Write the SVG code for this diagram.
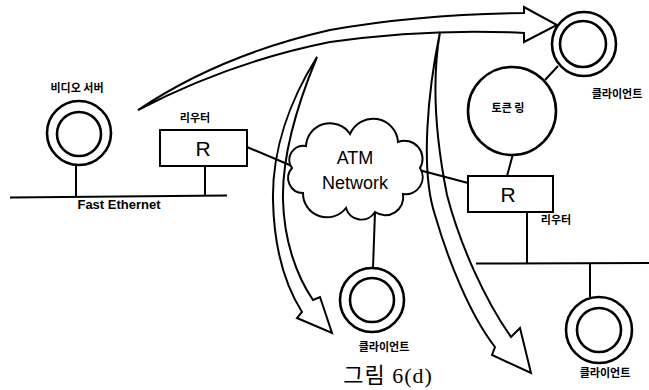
<svg xmlns="http://www.w3.org/2000/svg" width="649" height="390" viewBox="0 0 649 390">
<style>
.ln{stroke:#000;stroke-width:2;fill:none}
.ring{stroke:#000;stroke-width:2.6;fill:#fff}
.box{stroke:#000;stroke-width:2;fill:#fff}
.arr{stroke:#000;stroke-width:2;fill:none;stroke-linejoin:miter}
.kl{font-family:"Noto Sans CJK KR",sans-serif;font-weight:bold;font-size:11px;fill:#000}
.en{font-family:"Liberation Sans",Arial,sans-serif;fill:#000}
</style>
<rect width="649" height="390" fill="#fff"/>
<g id="connectors">
<line class="ln" x1="10" y1="197.5" x2="227" y2="195.5"/>
<line class="ln" x1="76" y1="166" x2="76" y2="196.5"/>
<line class="ln" x1="205" y1="166" x2="205" y2="195.5"/>
<line class="ln" x1="247" y1="147" x2="292" y2="166"/>
<line class="ln" x1="419" y1="170" x2="468" y2="183"/>
<line class="ln" x1="375" y1="212" x2="373" y2="268"/>
<line class="ln" x1="513" y1="154" x2="507" y2="176"/>
<line class="ln" x1="545" y1="80" x2="558" y2="66"/>
<line class="ln" x1="527" y1="212" x2="527" y2="263"/>
<line class="ln" x1="476" y1="263.5" x2="649" y2="263"/>
<line class="ln" x1="590" y1="263" x2="590" y2="297"/>
</g>
<g id="video-server">
<circle class="ring" cx="79" cy="133" r="32"/>
<circle class="ring" cx="79" cy="134" r="22"/>
<text class="kl" x="77" y="92" text-anchor="middle" font-size="12">비디오 서버</text>
</g>
<g id="fast-ethernet">
<text class="en" x="119" y="209" text-anchor="middle" font-size="13" font-weight="bold">Fast Ethernet</text>
</g>
<g id="router1">
<rect class="box" x="160" y="130" width="87" height="36"/>
<text class="en" x="203" y="156" text-anchor="middle" font-size="21">R</text>
<text class="kl" x="195" y="122" text-anchor="middle">리우터</text>
</g>
<g id="atm-network">
<path class="box" d="M292 168 A14 14 0 0 1 306 146 A24 24 0 0 1 350 134 A25 25 0 0 1 398 142 A18 18 0 0 1 420 168 A17 17 0 0 1 403 194 A18 18 0 0 1 375 212 A16 16 0 0 1 346 208 A24 24 0 0 1 303 193 A15 15 0 0 1 292 168 Z"/>
<text class="en" x="355" y="164" text-anchor="middle" font-size="18">ATM</text>
<text class="en" x="355" y="189" text-anchor="middle" font-size="18">Network</text>
</g>
<g id="client-center">
<circle class="ring" cx="372" cy="300" r="32"/>
<circle class="ring" cx="372" cy="300" r="22"/>
<text class="kl" x="384" y="351" text-anchor="middle">클라이언트</text>
</g>
<g id="token-ring">
<circle class="ring" cx="512" cy="111" r="44"/>
<text class="kl" x="508" y="112" text-anchor="middle" font-size="10">토큰 링</text>
</g>
<g id="client-top">
<circle class="ring" cx="584" cy="44" r="32"/>
<circle class="ring" cx="583" cy="44" r="23"/>
<text class="kl" x="617" y="98" text-anchor="middle">클라이언트</text>
</g>
<g id="router2">
<rect class="box" x="468" y="176" width="85" height="36"/>
<text class="en" x="508" y="202" text-anchor="middle" font-size="21">R</text>
<text class="kl" x="556" y="224" text-anchor="middle">리우터</text>
</g>
<g id="client-right">
<circle class="ring" cx="599" cy="330" r="33"/>
<circle class="ring" cx="599" cy="330" r="22"/>
<text class="kl" x="605" y="377" text-anchor="middle">클라이언트</text>
</g>
<g id="arrows">
<path class="arr" d="M138 110 Q220 55 330 30 Q420 14 524 13 L524 7 L557 25 L524 42 L524 33 Q430 28 330 42 Q230 62 138 110 Z"/>
<path class="arr" d="M440 32 C428 90 420 170 435 215 C448 260 470 315 495 347 L492 355 L531 373 L520 328 L511 337 C485 300 460 245 447 195 C438 150 430 90 440 32 Z"/>
<path class="arr" d="M317 57 C290 100 272 150 273 200 C274 250 285 285 302 312 L297 318 L332 333 L320 297 L313 300 C296 275 284 240 283 200 C282 160 295 110 317 57 Z"/>
</g>
<g id="caption">
<text x="388" y="383" text-anchor="middle" font-family="'Liberation Serif','Noto Sans CJK KR',serif" font-size="22" letter-spacing="1" fill="#000">그림 6(d)</text>
</g>
</svg>
